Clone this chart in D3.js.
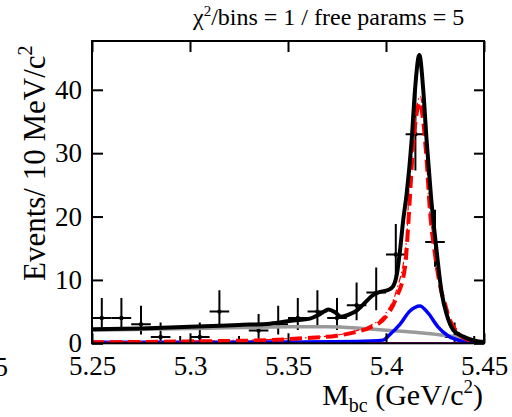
<!DOCTYPE html>
<html>
<head>
  <title>Mbc fit</title>
  <script src="https://d3js.org/d3.v7.min.js"></script>
  <style>
    body { margin: 0; background: #fff; }
    text { font-family: "Liberation Serif", "Times New Roman", serif; fill: #000; }
  </style>
</head>
<body>
  <svg id="chart" width="512" height="417"></svg>

  <script>
    // binned data (10 MeV bins), Poisson errors as drawn
    const binCenters = [5.255, 5.265, 5.275, 5.285, 5.295, 5.305, 5.315, 5.325, 5.335, 5.345,
                        5.355, 5.365, 5.375, 5.385, 5.395, 5.405, 5.415, 5.425, 5.435, 5.445];
    const counts = [4, 4, 3, 1, 0, 1, 5, 0, 2, 3, 4, 5, 4, 6, 8, 14, 33, 16, 1, 0];
    const errLo = [1.91, 1.91, 1.63, 0.83, 0, 0.83, 2.16, 0, 1.29, 1.63, 1.91, 2.16, 1.91, 2.38, 2.77, 3.68, 5.72, 3.94, 0.83, 0];
    const errHi = [3.16, 3.16, 2.92, 2.30, 1.15, 2.30, 3.38, 1.15, 2.64, 2.92, 3.16, 3.38, 3.16, 3.58, 3.95, 4.81, 6.80, 5.07, 2.30, 1.15];
    const binHalf = 0.005;

    // fit curves
    const totalX = [5.25, 5.275, 5.30, 5.325, 5.3408, 5.3526, 5.3612, 5.3663, 5.3707, 5.374, 5.377, 5.3816, 5.3852, 5.3883,
                    5.3934, 5.3969, 5.401, 5.4036, 5.4056, 5.4071, 5.4088, 5.4105, 5.4131, 5.4148, 5.417, 5.419, 5.4207,
                    5.423, 5.4255, 5.4284, 5.431, 5.4343, 5.4394, 5.4454, 5.45];
    const totalY = [2.2, 2.35, 2.6, 2.9, 3.1, 3.6, 3.9, 4.6, 5.35, 4.9, 4.2, 4.6, 5.2, 6.1,
                    7.6, 8.1, 8.4, 9.0, 11.0, 14.5, 19.5, 23.5, 32.1, 40, 45.5, 40, 32.1,
                    23, 15.5, 8.0, 4.5, 2.1, 1.05, 0.4, 0.2];

    const sigX = [5.25, 5.30, 5.34, 5.36, 5.375, 5.385, 5.392, 5.40, 5.405, 5.4097, 5.4112, 5.4122, 5.4138, 5.4155, 5.4172,
                  5.419, 5.4207, 5.4224, 5.425, 5.4284, 5.430, 5.4326, 5.4368, 5.4418, 5.446, 5.45];
    const sigY = [0.15, 0.3, 0.5, 0.85, 1.2, 1.8, 2.5, 4.2, 7, 12, 18, 23, 31, 36, 38,
                  35, 29, 21, 14, 8, 6.3, 3.7, 1.6, 0.5, 0.1, 0.05];

    const sigAllX = [5.25, 5.30, 5.34, 5.36, 5.375, 5.385, 5.392, 5.40, 5.405, 5.4107, 5.4115, 5.4132, 5.4148, 5.4165, 5.4175,
                     5.419, 5.4207, 5.4215, 5.4245, 5.428, 5.432, 5.437, 5.442, 5.446, 5.45];
    const sigAllY = [0.2, 0.35, 0.6, 0.9, 1.3, 2.0, 2.8, 4.8, 8, 17, 23, 29, 34.5, 38.5, 39,
                     36, 30, 24, 16, 9, 4.2, 1.8, 0.6, 0.15, 0.05];

    const peakBkgX = [5.25, 5.35, 5.385, 5.3985, 5.402, 5.4071, 5.4122, 5.4173, 5.4214, 5.4265, 5.4316, 5.4393, 5.445, 5.45];
    const peakBkgY = [0.15, 0.2, 0.3, 0.5, 1.4, 3.0, 5.1, 5.9, 4.8, 2.6, 1.2, 0.3, 0.05, 0.02];

    const contX = [5.25, 5.30, 5.35, 5.37, 5.39, 5.41, 5.42, 5.43, 5.44, 5.443, 5.4455];
    const contY = [2.05, 2.35, 2.6, 2.62, 2.3, 1.85, 1.6, 1.25, 0.75, 0.45, 0];

    const flatX = [5.25, 5.45];
    const flatY = [0.05, 0.05];

    const xTicks = [5.25, 5.3, 5.35, 5.4, 5.45];
    const xTickLabels = ["5.25", "5.3", "5.35", "5.4", "5.45"];
    const yTicks = [0, 10, 20, 30, 40];

    const serif = "'Liberation Serif', 'Times New Roman', serif";
    const svg = d3.select("#chart");
    const m = { left: 92, right: 484, top: 41, bottom: 343.3 };

    const x = d3.scaleLinear().domain([5.25, 5.45]).range([m.left, m.right]);
    const y = d3.scaleLinear().domain([0, 47.7]).range([m.bottom, m.top]);

    svg.append("clipPath").attr("id", "clip")
      .append("rect")
      .attr("x", m.left).attr("y", m.top)
      .attr("width", m.right - m.left).attr("height", m.bottom - m.top);

    const plot = svg.append("g").attr("clip-path", "url(#clip)");

    // data points with error bars
    const pts = plot.append("g");
    binCenters.forEach((c, i) => {
      const g = pts.append("g").attr("stroke", "#000").attr("stroke-width", 2);
      g.append("line")
        .attr("x1", x(c)).attr("x2", x(c))
        .attr("y1", y(counts[i] - errLo[i])).attr("y2", y(counts[i] + errHi[i]));
      if (counts[i] > 0) {
        g.append("line")
          .attr("x1", x(c - binHalf)).attr("x2", x(c + binHalf))
          .attr("y1", y(counts[i])).attr("y2", y(counts[i]));
        g.append("circle")
          .attr("cx", x(c)).attr("cy", y(counts[i])).attr("r", 2.2)
          .attr("fill", "#000").attr("stroke", "none");
      }
    });

    const line = (xs, ys) => d3.line()
      .x((d, i) => x(xs[i]))
      .y((d, i) => y(ys[i]))
      .curve(d3.curveMonotoneX)(ys);

    plot.append("path").attr("d", line(flatX, flatY))
      .attr("fill", "none").attr("stroke", "#cc00cc").attr("stroke-width", 2);
    plot.append("path").attr("d", line(contX, contY))
      .attr("fill", "none").attr("stroke", "#999999").attr("stroke-width", 3.5);
    plot.append("path").attr("d", line(peakBkgX, peakBkgY))
      .attr("fill", "none").attr("stroke", "#0000ff").attr("stroke-width", 3.5);
    plot.append("path").attr("d", line(sigAllX, sigAllY))
      .attr("fill", "none").attr("stroke", "#ff0000").attr("stroke-width", 1.2)
      .attr("stroke-dasharray", "7,3,1.5,3");
    plot.append("path").attr("d", line(sigX, sigY))
      .attr("fill", "none").attr("stroke", "#ff0000").attr("stroke-width", 4)
      .attr("stroke-dasharray", "12,6");
    plot.append("path").attr("d", line(totalX, totalY))
      .attr("fill", "none").attr("stroke", "#000").attr("stroke-width", 4);

    // axes: ticks pointing inward on all four sides
    const xAxis = d3.axisBottom(x).tickValues(xTicks)
      .tickFormat((d, i) => xTickLabels[i]).tickSizeInner(-10).tickSizeOuter(0).tickPadding(13);
    const gx = svg.append("g").attr("transform", `translate(0,${m.bottom})`).call(xAxis);

    const yAxis = d3.axisLeft(y).tickValues(yTicks).tickSizeInner(-11).tickSizeOuter(0).tickPadding(10);
    const gy = svg.append("g").attr("transform", `translate(${m.left},0)`).call(yAxis);

    const gt = svg.append("g").attr("transform", `translate(0,${m.top})`)
      .call(d3.axisTop(x).tickValues(xTicks).tickFormat("").tickSizeInner(-11).tickSizeOuter(0));
    const gr = svg.append("g").attr("transform", `translate(${m.right},0)`)
      .call(d3.axisRight(y).tickValues(yTicks).tickFormat("").tickSizeInner(-10).tickSizeOuter(0));

    [gx, gy, gt, gr].forEach(g => {
      g.attr("font-family", serif).attr("font-size", 27);
      g.select(".domain").remove();
      g.selectAll(".tick line").attr("stroke", "#000").attr("stroke-width", 2);
      g.selectAll(".tick text").attr("fill", "#000");
    });

    svg.append("rect")
      .attr("x", m.left).attr("y", m.top)
      .attr("width", m.right - m.left).attr("height", m.bottom - m.top)
      .attr("fill", "none").attr("stroke", "#000").attr("stroke-width", 2);

    // clipped label from the neighbouring panel
    svg.append("text").attr("x", 8).attr("y", 376).attr("text-anchor", "end")
      .attr("font-size", 27).text("5.45");

    // axis titles
    const xt = svg.append("text").attr("x", 483).attr("y", 405)
      .attr("text-anchor", "end").attr("font-size", 30);
    xt.append("tspan").text("M");
    xt.append("tspan").attr("font-size", 20).attr("dy", 7).text("bc");
    xt.append("tspan").attr("dy", -7).text(" (GeV/c");
    xt.append("tspan").attr("font-size", 19).attr("dy", -12).text("2");
    xt.append("tspan").attr("dy", 12).text(")");

    const yt = svg.append("text")
      .attr("transform", "translate(45,281) rotate(-90)")
      .attr("font-size", 31);
    yt.append("tspan").text("Events/ 10 MeV/c");
    yt.append("tspan").attr("font-size", 20).attr("dy", -13).text("2");

    const info = svg.append("text").attr("x", 193).attr("y", 25).attr("font-size", 24);
    info.append("tspan").text("\u03c7");
    info.append("tspan").attr("font-size", 15).attr("dy", -9).text("2");
    info.append("tspan").attr("dy", 9).text("/bins = 1 / free params = 5");
  </script>
</body>
</html>
